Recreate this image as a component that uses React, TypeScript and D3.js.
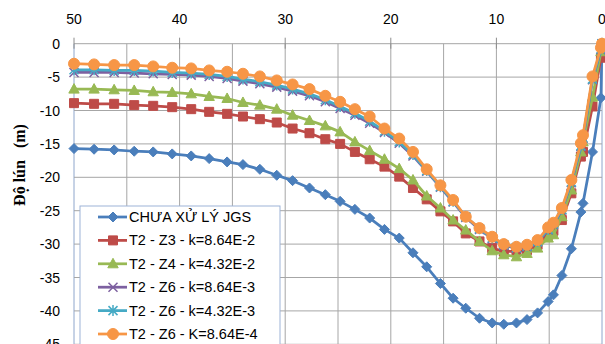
import React, { useEffect, useRef } from 'react';
import * as d3 from 'd3';

// distance along the section (m), shared by every series
const xs = [50, 48.1, 46.2, 44.3, 42.5, 40.7, 38.9, 37.2, 35.5, 34.0, 32.4, 30.8, 29.3, 27.7, 26.2, 24.8, 23.4, 22.0, 20.6, 19.2,
  17.9, 16.6, 15.3, 14.1, 12.9, 11.6, 10.4, 9.3, 8.1, 7.1, 6.1, 5.1, 4.6, 3.8, 2.9, 2.0, 1.8, 0.9, 0.1, 0];

const chuaXuLy = [-15.7, -15.8, -15.9, -16.1, -16.2, -16.5, -16.8, -17.2, -17.7, -18.1, -18.8, -19.7, -20.5, -21.6, -22.6, -23.6, -24.8, -26.1, -27.8, -29.1,
  -31.3, -33.4, -35.9, -38.1, -39.6, -41.1, -41.8, -42.0, -41.8, -41.3, -40.3, -38.6, -37.6, -34.7, -30.7, -25.2, -23.9, -16.2, -8.1, 0];
const z3 = [-8.9, -9.0, -9.0, -9.2, -9.3, -9.5, -9.8, -10.2, -10.5, -10.9, -11.3, -11.8, -12.7, -13.4, -14.3, -15.0, -16.2, -17.3, -18.4, -19.9,
  -21.6, -23.3, -25.1, -26.6, -28.4, -29.6, -30.6, -31.1, -31.1, -30.9, -30.1, -28.6, -28.0, -26.4, -22.4, -16.9, -16.2, -9.4, -2.1, null];
const z4 = [-6.8, -6.8, -6.9, -7.0, -7.2, -7.3, -7.5, -7.9, -8.2, -8.8, -9.2, -9.8, -10.7, -11.5, -12.3, -13.2, -14.7, -16.0, -17.3, -18.7,
  -20.4, -22.8, -24.6, -26.4, -27.9, -29.6, -31.0, -31.6, -31.9, -31.4, -30.6, -29.1, -28.6, -25.9, -21.9, -16.2, -14.7, -8.0, -1.2, 0];
const z6a = [-4.3, -4.3, -4.3, -4.4, -4.5, -4.6, -4.7, -4.9, -5.2, -5.6, -6.0, -6.5, -7.1, -7.8, -8.7, -9.7, -10.7, -11.9, -13.3, -14.9,
  -16.8, -19.1, -21.5, -23.7, -26.0, -27.8, -29.2, -30.2, -30.6, -30.4, -29.7, -27.9, -27.1, -24.9, -20.8, -15.4, -14.2, -5.4, -0.9, 0];
const z6b = [-3.9, -3.9, -4.0, -4.0, -4.1, -4.3, -4.4, -4.6, -4.9, -5.3, -5.7, -6.2, -6.8, -7.5, -8.4, -9.4, -10.4, -11.6, -13.1, -14.7,
  -16.6, -19.0, -21.4, -23.6, -25.9, -27.7, -29.1, -30.1, -30.5, -30.3, -29.6, -27.8, -27.0, -24.8, -20.7, -15.3, -14.1, -5.3, -0.8, 0];
const z6c = [-3.0, -3.1, -3.2, -3.2, -3.4, -3.6, -3.7, -4.0, -4.2, -4.5, -4.9, -5.5, -6.1, -6.8, -7.8, -8.7, -9.8, -10.9, -12.7, -14.2,
  -16.2, -18.8, -21.2, -23.4, -25.9, -27.6, -28.9, -30.0, -30.4, -30.1, -29.4, -27.5, -26.8, -24.6, -20.4, -14.9, -13.7, -4.9, -0.6, 0];

const seriesNames = ['CHƯA XỬ LÝ JGS', 'T2 - Z3 - k=8.64E-2', 'T2 - Z4 - k=4.32E-2', 'T2 - Z6 - k=8.64E-3', 'T2 - Z6 - k=4.32E-3', 'T2 - Z6 - K=8.64E-4'];
const seriesValues = [chuaXuLy, z3, z4, z6a, z6b, z6c];
const seriesColors = ['#4A7EBB', '#BE4B48', '#98B954', '#7D60A0', '#46AAC5', '#F79646'];
const seriesMarkers = ['diamond', 'square', 'triangle', 'times', 'asterisk', 'circle'];

const xTicks = [50, 40, 30, 20, 10, 0];
const yTicks = [0, -5, -10, -15, -20, -25, -30, -35, -40, -45];

const markerPath = (type) => {
  switch (type) {
    case 'diamond': return 'M0,-5L5,0L0,5L-5,0Z';
    case 'square': return 'M-4.5,-4.5H4.5V4.5H-4.5Z';
    case 'triangle': return 'M0,-5.5L5.2,4L-5.2,4Z';
    case 'times': return 'M-4.5,-4.5L4.5,4.5M4.5,-4.5L-4.5,4.5';
    case 'asterisk': return 'M-4.5,-4.5L4.5,4.5M4.5,-4.5L-4.5,4.5M0,-5.5V5.5';
    default: return 'M5.5,0A5.5,5.5 0 1 1 -5.5,0A5.5,5.5 0 1 1 5.5,0Z';
  }
};

const App = () => {
  const svgRef = useRef();

  useEffect(() => {
    const width = 605;
    const height = 344;
    const svg = d3.select(svgRef.current);
    svg.selectAll('*').remove();

    const x = d3.scaleLinear().domain([50, 0]).range([74, 602]);
    const y = d3.scaleLinear().domain([0, -45]).range([43.7, 344.3]);

    svg.append('rect').attr('width', width).attr('height', height).attr('fill', '#fff');

    // grid
    const grid = svg.append('g');
    grid.selectAll('line.v')
      .data(d3.range(0, 51, 5))
      .join('line')
      .attr('x1', d => x(d)).attr('x2', d => x(d))
      .attr('y1', y(0)).attr('y2', y(-45))
      .attr('stroke', d => (d === 0 || d === 50) ? '#8EA6CC' : '#A6A6A6')
      .attr('stroke-width', 1);
    grid.selectAll('line.h')
      .data(yTicks)
      .join('line')
      .attr('x1', x(50)).attr('x2', x(0))
      .attr('y1', d => y(d)).attr('y2', d => y(d))
      .attr('stroke', '#A6A6A6')
      .attr('stroke-width', 1);

    // top axis ticks + labels
    svg.append('g')
      .selectAll('line')
      .data(xTicks)
      .join('line')
      .attr('x1', d => x(d)).attr('x2', d => x(d))
      .attr('y1', y(0) - 6).attr('y2', y(0) + 5)
      .attr('stroke', '#8C8C8C');
    svg.append('g')
      .selectAll('text')
      .data(xTicks)
      .join('text')
      .attr('x', d => x(d))
      .attr('y', 24)
      .attr('text-anchor', 'middle')
      .style('font-family', 'Liberation Sans, Arial, sans-serif')
      .style('font-size', '14px')
      .attr('fill', '#000')
      .text(d => d);

    svg.append('g')
      .selectAll('text')
      .data(yTicks)
      .join('text')
      .attr('x', 60)
      .attr('y', d => y(d) + 5)
      .attr('text-anchor', 'end')
      .style('font-family', 'Liberation Sans, Arial, sans-serif')
      .style('font-size', '14px')
      .attr('fill', '#000')
      .text(d => d);

    svg.append('text')
      .attr('transform', 'translate(25,165) rotate(-90)')
      .attr('text-anchor', 'middle')
      .style('font-family', 'Liberation Serif, serif')
      .style('font-size', '16px')
      .style('font-weight', 'bold')
      .style('white-space', 'pre')
      .attr('fill', '#000')
      .text('Độ lún   (m)');

    // series
    const line = d3.line()
      .defined(d => d[1] !== null)
      .x(d => x(d[0]))
      .y(d => y(d[1]));

    seriesValues.forEach((vals, i) => {
      const pts = xs.map((xv, j) => [xv, vals[j]]);
      const g = svg.append('g');
      g.append('path')
        .datum(pts)
        .attr('d', line)
        .attr('fill', 'none')
        .attr('stroke', seriesColors[i])
        .attr('stroke-width', 2.75)
        .attr('stroke-linejoin', 'round');
      const stroked = seriesMarkers[i] === 'times' || seriesMarkers[i] === 'asterisk';
      g.selectAll('path.m')
        .data(pts.filter(d => d[1] !== null))
        .join('path')
        .attr('class', 'm')
        .attr('transform', d => `translate(${x(d[0])},${y(d[1])})`)
        .attr('d', markerPath(seriesMarkers[i]))
        .attr('fill', stroked ? 'none' : seriesColors[i])
        .attr('stroke', seriesColors[i])
        .attr('stroke-width', stroked ? 1.5 : 1);
    });

    // legend
    const legend = svg.append('g').attr('transform', 'translate(80,206)');
    legend.append('rect')
      .attr('width', 200).attr('height', 160)
      .attr('fill', '#fff')
      .attr('stroke', '#9DB3D7');
    seriesNames.forEach((name, i) => {
      const row = legend.append('g').attr('transform', `translate(0,${11 + i * 23.4})`);
      row.append('line')
        .attr('x1', 18).attr('x2', 47)
        .attr('stroke', seriesColors[i])
        .attr('stroke-width', 2.75);
      const stroked = seriesMarkers[i] === 'times' || seriesMarkers[i] === 'asterisk';
      row.append('path')
        .attr('transform', 'translate(33,0)')
        .attr('d', markerPath(seriesMarkers[i]))
        .attr('fill', stroked ? 'none' : seriesColors[i])
        .attr('stroke', seriesColors[i])
        .attr('stroke-width', stroked ? 1.5 : 1);
      row.append('text')
        .attr('x', 49)
        .attr('y', 5)
        .style('font-family', 'Liberation Sans, Arial, sans-serif')
        .style('font-size', '14.5px')
        .attr('fill', '#000')
        .text(name);
    });
  }, []);

  return (
    <div style={{ position: 'fixed', left: 0, top: 0, width: 605, height: 344, overflow: 'hidden' }}>
      <svg ref={svgRef} width={605} height={344} style={{ display: 'block' }}></svg>
    </div>
  );
};

export default App;
